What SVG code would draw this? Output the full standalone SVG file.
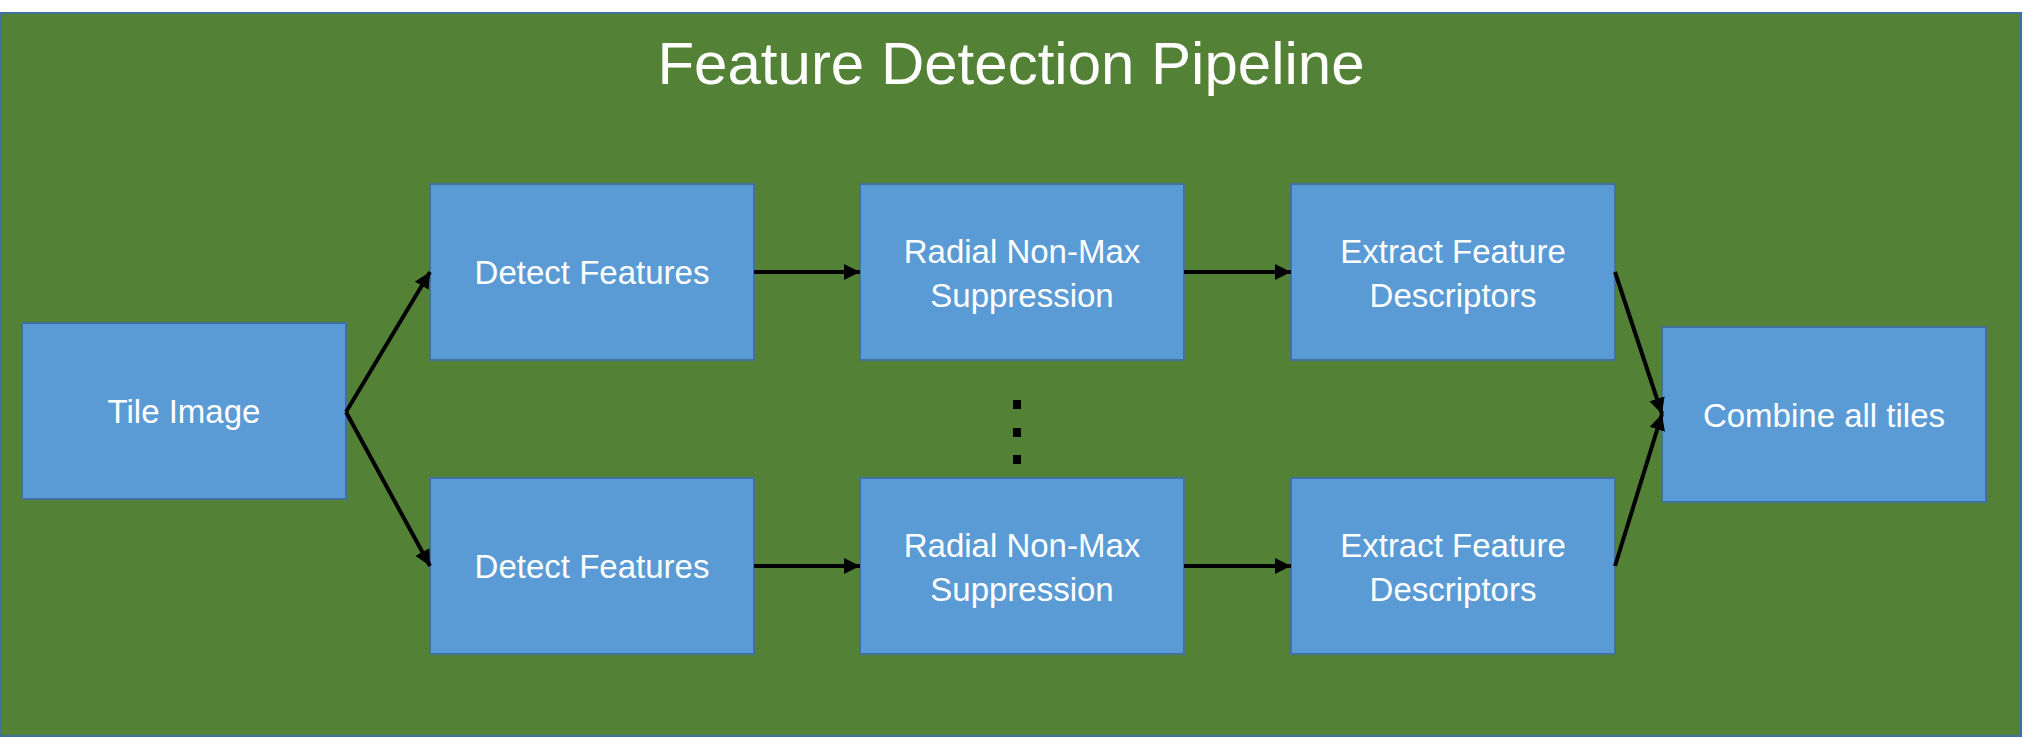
<svg xmlns="http://www.w3.org/2000/svg" width="2023" height="738" viewBox="0 0 2023 738">
<style>
.bg{fill:#538135;stroke:#41719C;stroke-width:2}
.box{fill:#5B9BD5;stroke:#41719C;stroke-width:2}
.lbl{font-family:"Liberation Sans",Arial,sans-serif;font-size:33px;fill:#FFFFFF;text-anchor:middle}
.title{font-family:"Liberation Sans",Arial,sans-serif;font-size:60px;fill:#FFFFFF;text-anchor:middle}
.conn{stroke:#000000;stroke-width:4;fill:none;marker-end:url(#arr)}
</style>
<defs>
<marker id="arr" markerUnits="userSpaceOnUse" markerWidth="16" markerHeight="16" viewBox="0 0 14 14" refX="14" refY="7" orient="auto">
<path d="M0,0 L14,7 L0,14 Z" fill="#000000"/>
</marker>
</defs>
<rect class="bg" x="1" y="13" width="2020" height="723"/>
<text class="title" x="1011" y="84">Feature Detection Pipeline</text>

<g id="tile-image"><rect class="box" x="22" y="323" width="324" height="176"/><text class="lbl" x="184" y="423">Tile Image</text></g>
<g id="detect-top"><rect class="box" x="430" y="184" width="324" height="176"/><text class="lbl" x="592" y="284">Detect Features</text></g>
<g id="radial-top"><rect class="box" x="860" y="184" width="324" height="176"/><text class="lbl" x="1022" y="263">Radial Non-Max</text><text class="lbl" x="1022" y="307">Suppression</text></g>
<g id="extract-top"><rect class="box" x="1291" y="184" width="324" height="176"/><text class="lbl" x="1453" y="263">Extract Feature</text><text class="lbl" x="1453" y="307">Descriptors</text></g>
<g id="detect-bottom"><rect class="box" x="430" y="478" width="324" height="176"/><text class="lbl" x="592" y="578">Detect Features</text></g>
<g id="radial-bottom"><rect class="box" x="860" y="478" width="324" height="176"/><text class="lbl" x="1022" y="557">Radial Non-Max</text><text class="lbl" x="1022" y="601">Suppression</text></g>
<g id="extract-bottom"><rect class="box" x="1291" y="478" width="324" height="176"/><text class="lbl" x="1453" y="557">Extract Feature</text><text class="lbl" x="1453" y="601">Descriptors</text></g>
<g id="combine"><rect class="box" x="1662" y="327" width="324" height="175"/><text class="lbl" x="1824" y="427">Combine all tiles</text></g>

<g id="ellipsis" fill="#000000">
<rect x="1013" y="400" width="8" height="9"/>
<rect x="1013" y="428" width="8" height="9"/>
<rect x="1013" y="455" width="8" height="9"/>
</g>

<g id="connectors">
<path class="conn" d="M346,412 L430,272"/>
<path class="conn" d="M346,412 L430,566"/>
<path class="conn" d="M754,272 L860,272"/>
<path class="conn" d="M1184,272 L1291,272"/>
<path class="conn" d="M754,566 L860,566"/>
<path class="conn" d="M1184,566 L1291,566"/>
<path class="conn" d="M1615,272 L1662,414"/>
<path class="conn" d="M1615,566 L1662,414"/>
</g>
</svg>
